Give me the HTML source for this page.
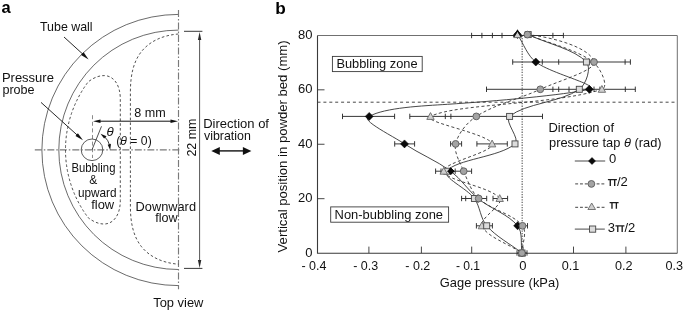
<!DOCTYPE html>
<html><head><meta charset="utf-8"><title>Figure</title>
<style>html,body{margin:0;padding:0;background:#fff;}svg{display:block;filter:grayscale(1);}text{font-family:"Liberation Sans", sans-serif;}</style></head><body>
<svg width="685" height="312" viewBox="0 0 685 312" font-family="'Liberation Sans', sans-serif">
<rect width="685" height="312" fill="#fff"/>
<g>
<g fill="none" stroke="#3a3a3a" stroke-width="0.75">
<path d="M178.5,14.40 A136.6,135.6 0 0 0 41.90,150.0 A136.6,135.6 0 0 0 178.5,285.60"/>
<path d="M178.5,30.10 A119.7,119.7 0 0 0 58.80,149.8 A119.7,119.7 0 0 0 178.5,269.50"/>
</g>
<g fill="none" stroke="#7a7a7a" stroke-width="1.15" stroke-dasharray="7 2 1.5 2">
<path d="M34.8,149.8 H179.5"/>
<path d="M178.5,9.9 V289.3"/>
</g>
<g fill="none" stroke="#333" stroke-width="0.85" stroke-dasharray="2.6 2.2">
<path d="M120.3,149.8 V99 C120.3,84 113,75.8 104.6,75.6 C98,75.4 92.5,78.6 88.25,81.79 A113.0,113.0 0 0 0 88.25,217.81 C92.5,221.00 98,224.20 104.6,224.00 C113,223.80 120.3,215.60 120.3,200.60 V149.8"/>
<path d="M178.5,34 C163,35.2 150,41 141.5,51.5 C133.5,61.5 130.4,75 130.4,92 V206.20 C130.4,223.20 133.5,236.70 141.5,246.70 C150,257.20 163,263.00 178.5,264.20"/>
<path d="M92.5,115.2 V158" stroke="#777" stroke-dasharray="4 2.6"/>
</g>
<circle cx="92" cy="149.8" r="10.8" fill="none" stroke="#333" stroke-width="0.8"/>
<path d="M64.00,37.00 L83.57,54.82" stroke="#111" stroke-width="0.9" fill="none"/>
<path d="M88.60,59.40 L81.04,55.08 L83.59,52.27 Z" fill="#111"/>
<path d="M41.00,102.40 L77.95,135.74" stroke="#111" stroke-width="0.9" fill="none"/>
<path d="M83.00,140.30 L75.48,135.94 L77.90,133.27 Z" fill="#111"/>
<path d="M99.00,121.20 L172.00,121.20" stroke="#111" stroke-width="1.0" fill="none"/>
<path d="M178.00,121.20 L170.50,122.90 L170.50,119.50 Z" fill="#111"/>
<path d="M93.00,121.20 L100.50,122.90 L100.50,119.50 Z" fill="#111"/>
<path d="M199.60,150.00 L199.60,38.40" stroke="#2a2a2a" stroke-width="0.8" fill="none"/>
<path d="M199.60,32.00 L201.30,40.00 L197.90,40.00 Z" fill="#2a2a2a"/>
<path d="M199.60,150.00 L199.60,261.60" stroke="#2a2a2a" stroke-width="0.8" fill="none"/>
<path d="M199.60,268.00 L197.90,260.00 L201.30,260.00 Z" fill="#2a2a2a"/>
<path d="M184,31.3 H202.4 M184,268.4 H202.4" stroke="#222" stroke-width="0.9"/>
<path d="M218.10,150.90 L244.60,150.90" stroke="#111" stroke-width="1.4" fill="none"/>
<path d="M251.40,150.90 L242.90,154.90 L242.90,146.90 Z" fill="#111"/>
<path d="M211.30,150.90 L219.80,154.90 L219.80,146.90 Z" fill="#111"/>
<path d="M92,149.8 L101.5,126.3" stroke="#333" stroke-width="0.85" fill="none"/>
<path d="M109.66,145.40 A18.2,18.2 0 0 0 104.64,136.71" stroke="#222" stroke-width="0.9" fill="none"/>
<path d="M100.54,133.73 L106.55,136.23 L104.07,138.55 Z" fill="#111"/>
<path d="M110.20,150.12 L110.93,143.65 L107.69,144.70 Z" fill="#111"/>
<text x="1.60" y="13.20" font-size="16.5" font-weight="bold" fill="#000" >a</text>
<text x="40.00" y="30.90" font-size="13" textLength="52.60" lengthAdjust="spacingAndGlyphs" fill="#111" >Tube wall</text>
<text x="1.90" y="82.10" font-size="13" textLength="52.00" lengthAdjust="spacingAndGlyphs" fill="#111" >Pressure</text>
<text x="2.40" y="93.80" font-size="13" textLength="32.20" lengthAdjust="spacingAndGlyphs" fill="#111" >probe</text>
<text x="134.20" y="116.50" font-size="13" textLength="31.50" lengthAdjust="spacingAndGlyphs" fill="#111" >8 mm</text>
<text x="106.60" y="136.00" font-size="13" textLength="7.20" lengthAdjust="spacingAndGlyphs" font-style="italic" fill="#111" >&#952;</text>
<text x="116.30" y="145.00" font-size="13" textLength="35.40" lengthAdjust="spacingAndGlyphs" fill="#111" >(<tspan font-style="italic">&#952;</tspan> = 0)</text>
<text x="71.60" y="171.80" font-size="13" textLength="43.80" lengthAdjust="spacingAndGlyphs" fill="#111" >Bubbling</text>
<text x="89.20" y="184.20" font-size="13" textLength="8.00" lengthAdjust="spacingAndGlyphs" fill="#111" >&amp;</text>
<text x="77.90" y="197.00" font-size="13" textLength="38.60" lengthAdjust="spacingAndGlyphs" fill="#111" >upward</text>
<text x="91.20" y="208.90" font-size="13" textLength="23.00" lengthAdjust="spacingAndGlyphs" fill="#111" >flow</text>
<text x="135.60" y="211.10" font-size="13" textLength="60.40" lengthAdjust="spacingAndGlyphs" fill="#111" >Downward</text>
<text x="155.20" y="222.40" font-size="13" textLength="22.40" lengthAdjust="spacingAndGlyphs" fill="#111" >flow</text>
<text x="153.20" y="306.90" font-size="13" textLength="50.20" lengthAdjust="spacingAndGlyphs" fill="#111" >Top view</text>
<text x="203.20" y="128.00" font-size="13" textLength="65.80" lengthAdjust="spacingAndGlyphs" fill="#111" >Direction of</text>
<text x="204.00" y="139.90" font-size="13" textLength="46.80" lengthAdjust="spacingAndGlyphs" fill="#111" >vibration</text>
<g transform="translate(196.4,156.6) rotate(-90)">
<text x="0.00" y="0.00" font-size="13" textLength="38.00" lengthAdjust="spacingAndGlyphs" fill="#111" >22 mm</text>
</g>
<text x="275.20" y="14.40" font-size="17.2" font-weight="bold" fill="#000" >b</text>
<path d="M522.20,35.4 V253.1" stroke="#777" stroke-width="1.4" stroke-dasharray="1.3 1.3" fill="none"/>
<path d="M317.5,102.2 H677.3" stroke="#333" stroke-width="0.9" stroke-dasharray="3 2.9" fill="none"/>
<path d="M317.5,35.5 H677.3 V253.29999999999998" stroke="#707070" stroke-width="1" fill="none"/>
<path d="M317.5,35.4 V253.29999999999998 H677.3" stroke="#3a3a3a" stroke-width="1.1" fill="none"/>
<path d="M368.90,253.1 v-6.5 M421.40,253.1 v-6.5 M471.70,253.1 v-6.5 M523.10,253.1 v-6.5 M573.50,253.1 v-6.5 M625.90,253.1 v-6.5 M317.5,198.68 h7 M317.5,144.25 h7 M317.5,89.82 h7 " stroke="#333" stroke-width="0.9" fill="none"/>
<path d="M471.60,35.50 H563.40 M471.60,32.80 v5.4 M481.90,32.80 v5.4 M492.40,32.80 v5.4 M502.00,32.80 v5.4 M552.90,32.80 v5.4 M563.40,32.80 v5.4 M512.70,62.00 H630.40 M512.70,59.30 v5.4 M542.30,59.30 v5.4 M558.70,59.30 v5.4 M625.10,59.30 v5.4 M630.40,59.30 v5.4 M486.50,89.30 H635.30 M486.50,86.60 v5.4 M552.90,86.60 v5.4 M558.70,86.60 v5.4 M569.00,86.60 v5.4 M594.00,86.60 v5.4 M599.90,86.60 v5.4 M625.30,86.60 v5.4 M635.30,86.60 v5.4 M342.50,116.40 H394.60 M342.50,113.70 v5.4 M394.60,113.70 v5.4 M409.80,116.40 H542.50 M409.80,113.70 v5.4 M445.30,113.70 v5.4 M450.90,113.70 v5.4 M542.50,113.70 v5.4 M394.70,143.90 H414.60 M394.70,141.20 v5.4 M414.60,141.20 v5.4 M450.60,143.90 H461.60 M450.60,141.20 v5.4 M461.60,141.20 v5.4 M476.90,143.90 H507.30 M476.90,141.20 v5.4 M507.30,141.20 v5.4 M435.60,171.20 H471.60 M435.60,168.50 v5.4 M441.00,168.50 v5.4 M455.20,168.50 v5.4 M471.60,168.50 v5.4 M461.60,198.50 H486.70 M461.60,195.80 v5.4 M465.70,195.80 v5.4 M486.70,195.80 v5.4 M493.00,198.50 H507.60 M493.00,195.80 v5.4 M507.60,195.80 v5.4 M476.40,225.80 H492.40 M476.40,223.10 v5.4 M492.40,223.10 v5.4 M517.60,225.80 H527.50 M527.50,223.10 v5.4 M517.00,253.00 H527.00 M517.00,250.30 v5.4 M527.00,250.30 v5.4 " stroke="#2c2c2c" stroke-width="0.95" fill="none"/>
<path d="M517.50,34.60 C523.60,43.73 527.32,55.54 535.80,62.00 C551.26,73.77 601.14,85.44 589.30,89.30 C565,95 494.6,101.2 447.6,104.3 C422.6,105.9 385,107.5 369.2,116.4 C358.86,119.46 392.14,135.60 404.50,143.90 C419.34,153.87 436.53,160.60 450.80,171.20 C461.03,178.80 468.10,190.40 478.00,198.50 C490.36,208.60 508.28,214.25 517.60,225.80 C522.94,232.42 520.53,243.93 522.00,253.00" stroke="#333" stroke-width="0.9" fill="none"/>
<path d="M528.20,34.60 C547.60,43.73 574.56,49.32 586.40,62.00 C591.59,67.56 586.31,84.33 579.30,89.30 C560.71,102.47 525.19,103.16 509.60,116.40 C503.76,121.36 520.78,138.86 515.00,143.90 C499.85,157.12 455.65,159.29 446.80,171.20 C442.12,177.49 466.89,188.23 474.40,198.50 C480.19,206.43 480.32,218.50 486.70,225.80 C496.19,236.67 510.23,243.93 522.00,253.00" stroke="#333" stroke-width="0.9" fill="none"/>
<path d="M527.40,34.60 C552,37 590.5,47.5 594,62 C595.96,70.30 558.52,80.88 540.30,89.30 C519.28,99.01 495.18,104.23 476.30,116.40 C466.95,122.43 457.90,133.90 455.60,143.90 C453.70,152.17 460.02,162.51 463.70,171.20 C467.72,180.71 471.32,191.65 478.70,198.50 C490.92,209.85 513.07,213.90 522.50,225.80 C527.47,232.07 522.10,243.93 521.90,253.00" stroke="#333" stroke-width="0.9" stroke-dasharray="3 2.4" fill="none"/>
<path d="M528.00,34.60 C549.67,43.73 575.49,49.04 593.00,62.00 C600.13,67.27 609.59,86.73 601.90,89.30 C555.42,104.86 456.85,103.29 430.50,116.40 C420.25,121.49 489.69,133.88 492.10,143.90 C494.09,152.15 442.51,162.62 443.70,171.20 C445.04,180.82 491.34,186.55 499.70,198.50 C504.07,204.75 478.91,218.49 481.90,225.80 C486.34,236.66 508.63,243.93 522.00,253.00" stroke="#333" stroke-width="0.9" stroke-dasharray="3 2.4" fill="none"/>
<path d="M513.50,34.60 L517.50,30.60 L521.50,34.60 L517.50,38.60 Z" fill="#0a0a0a" stroke="#000" stroke-width="0.5"/>
<path d="M531.80,62.00 L535.80,58.00 L539.80,62.00 L535.80,66.00 Z" fill="#0a0a0a" stroke="#000" stroke-width="0.5"/>
<path d="M585.30,89.30 L589.30,85.30 L593.30,89.30 L589.30,93.30 Z" fill="#0a0a0a" stroke="#000" stroke-width="0.5"/>
<path d="M365.20,116.40 L369.20,112.40 L373.20,116.40 L369.20,120.40 Z" fill="#0a0a0a" stroke="#000" stroke-width="0.5"/>
<path d="M400.50,143.90 L404.50,139.90 L408.50,143.90 L404.50,147.90 Z" fill="#0a0a0a" stroke="#000" stroke-width="0.5"/>
<path d="M447.40,171.20 L450.80,167.80 L454.20,171.20 L450.80,174.60 Z" fill="#0a0a0a" stroke="#000" stroke-width="0.5"/>
<path d="M474.00,198.50 L478.00,194.50 L482.00,198.50 L478.00,202.50 Z" fill="#0a0a0a" stroke="#000" stroke-width="0.5"/>
<path d="M513.60,225.80 L517.60,221.80 L521.60,225.80 L517.60,229.80 Z" fill="#0a0a0a" stroke="#000" stroke-width="0.5"/>
<path d="M518.00,253.00 L522.00,249.00 L526.00,253.00 L522.00,257.00 Z" fill="#0a0a0a" stroke="#000" stroke-width="0.5"/>
<rect x="443.80" y="168.20" width="6.0" height="6.0" fill="#dcdcdc" stroke="#454545" stroke-width="0.9"/>
<path d="M517.50,30.70 L521.30,37.60 L513.70,37.60 Z" fill="#cfcfcf" stroke="#6a6a6a" stroke-width="0.9"/>
<path d="M513.60,36.80 L517.50,30.60 L521.40,36.80" fill="none" stroke="#111" stroke-width="1.4"/>
<path d="M601.90,85.50 L605.60,92.30 L598.20,92.30 Z" fill="#cfcfcf" stroke="#6a6a6a" stroke-width="0.9" stroke-linejoin="miter"/>
<path d="M430.50,112.60 L434.20,119.40 L426.80,119.40 Z" fill="#cfcfcf" stroke="#6a6a6a" stroke-width="0.9" stroke-linejoin="miter"/>
<path d="M492.10,140.10 L495.80,146.90 L488.40,146.90 Z" fill="#cfcfcf" stroke="#6a6a6a" stroke-width="0.9" stroke-linejoin="miter"/>
<path d="M443.70,167.40 L447.40,174.20 L440.00,174.20 Z" fill="#cfcfcf" stroke="#6a6a6a" stroke-width="0.9" stroke-linejoin="miter"/>
<path d="M499.70,194.70 L503.40,201.50 L496.00,201.50 Z" fill="#cfcfcf" stroke="#6a6a6a" stroke-width="0.9" stroke-linejoin="miter"/>
<path d="M481.90,222.00 L485.60,228.80 L478.20,228.80 Z" fill="#cfcfcf" stroke="#6a6a6a" stroke-width="0.9" stroke-linejoin="miter"/>
<path d="M522.00,249.20 L525.70,256.00 L518.30,256.00 Z" fill="#cfcfcf" stroke="#6a6a6a" stroke-width="0.9" stroke-linejoin="miter"/>
<rect x="525.20" y="31.60" width="6.0" height="6.0" fill="#dcdcdc" stroke="#454545" stroke-width="0.9"/>
<rect x="583.40" y="59.00" width="6.0" height="6.0" fill="#dcdcdc" stroke="#454545" stroke-width="0.9"/>
<rect x="576.30" y="86.30" width="6.0" height="6.0" fill="#dcdcdc" stroke="#454545" stroke-width="0.9"/>
<rect x="506.60" y="113.40" width="6.0" height="6.0" fill="#dcdcdc" stroke="#454545" stroke-width="0.9"/>
<rect x="512.00" y="140.90" width="6.0" height="6.0" fill="#dcdcdc" stroke="#454545" stroke-width="0.9"/>
<rect x="471.40" y="195.50" width="6.0" height="6.0" fill="#dcdcdc" stroke="#454545" stroke-width="0.9"/>
<rect x="483.70" y="222.80" width="6.0" height="6.0" fill="#dcdcdc" stroke="#454545" stroke-width="0.9"/>
<rect x="519.00" y="250.00" width="6.0" height="6.0" fill="#dcdcdc" stroke="#454545" stroke-width="0.9"/>
<circle cx="527.40" cy="34.60" r="3.4" fill="#a3a3a3" stroke="#5a5a5a" stroke-width="0.9"/>
<circle cx="594.00" cy="62.00" r="3.4" fill="#a3a3a3" stroke="#5a5a5a" stroke-width="0.9"/>
<circle cx="540.30" cy="89.30" r="3.4" fill="#a3a3a3" stroke="#5a5a5a" stroke-width="0.9"/>
<circle cx="476.30" cy="116.40" r="3.4" fill="#a3a3a3" stroke="#5a5a5a" stroke-width="0.9"/>
<circle cx="455.60" cy="143.90" r="3.4" fill="#a3a3a3" stroke="#5a5a5a" stroke-width="0.9"/>
<circle cx="463.70" cy="171.20" r="3.4" fill="#a3a3a3" stroke="#5a5a5a" stroke-width="0.9"/>
<circle cx="478.70" cy="198.50" r="3.4" fill="#a3a3a3" stroke="#5a5a5a" stroke-width="0.9"/>
<circle cx="522.50" cy="225.80" r="3.4" fill="#a3a3a3" stroke="#5a5a5a" stroke-width="0.9"/>
<circle cx="521.90" cy="253.00" r="3.4" fill="#a3a3a3" stroke="#5a5a5a" stroke-width="0.9"/>
<path d="M447.40,171.20 L450.80,167.80 L454.20,171.20 L450.80,174.60 Z" fill="#0a0a0a" stroke="#000" stroke-width="0.5"/>
<rect x="332.4" y="56.4" width="89.8" height="15.2" fill="#fff" stroke="#3a3a3a" stroke-width="0.9"/>
<text x="336.40" y="68.10" font-size="13" textLength="81.20" lengthAdjust="spacingAndGlyphs" fill="#111" >Bubbling zone</text>
<rect x="330.7" y="206.9" width="117.9" height="15.3" fill="#fff" stroke="#3a3a3a" stroke-width="0.9"/>
<text x="334.60" y="218.50" font-size="13" textLength="108.40" lengthAdjust="spacingAndGlyphs" fill="#111" >Non-bubbling zone</text>
<text x="312.50" y="38.90" font-size="13" text-anchor="end" fill="#111" >80</text>
<text x="312.50" y="93.40" font-size="13" text-anchor="end" fill="#111" >60</text>
<text x="312.50" y="147.80" font-size="13" text-anchor="end" fill="#111" >40</text>
<text x="312.50" y="202.20" font-size="13" text-anchor="end" fill="#111" >20</text>
<text x="312.50" y="256.60" font-size="13" text-anchor="end" fill="#111" >0</text>
<text x="301.40" y="270.30" font-size="13" textLength="25.00" lengthAdjust="spacingAndGlyphs" fill="#111" >- 0.4</text>
<text x="353.20" y="270.30" font-size="13" textLength="25.00" lengthAdjust="spacingAndGlyphs" fill="#111" >- 0.3</text>
<text x="405.30" y="270.30" font-size="13" textLength="25.00" lengthAdjust="spacingAndGlyphs" fill="#111" >- 0.2</text>
<text x="455.90" y="270.30" font-size="13" textLength="24.20" lengthAdjust="spacingAndGlyphs" fill="#111" >- 0.1</text>
<text x="519.30" y="270.30" font-size="13" fill="#111" >0</text>
<text x="561.80" y="270.30" font-size="13" textLength="17.60" lengthAdjust="spacingAndGlyphs" fill="#111" >0.1</text>
<text x="614.90" y="270.30" font-size="13" textLength="17.60" lengthAdjust="spacingAndGlyphs" fill="#111" >0.2</text>
<text x="665.40" y="270.30" font-size="13" textLength="17.60" lengthAdjust="spacingAndGlyphs" fill="#111" >0.3</text>
<text x="439.80" y="286.70" font-size="13" textLength="119.60" lengthAdjust="spacingAndGlyphs" fill="#111" >Gage pressure (kPa)</text>
<g transform="translate(286.6,252.4) rotate(-90)">
<text x="0.00" y="0.00" font-size="13" textLength="212.00" lengthAdjust="spacingAndGlyphs" fill="#111" >Vertical position in powder bed (mm)</text>
</g>
<text x="548.40" y="131.70" font-size="13" textLength="65.60" lengthAdjust="spacingAndGlyphs" fill="#111" >Direction of</text>
<text x="549.00" y="146.80" font-size="13" textLength="112.60" lengthAdjust="spacingAndGlyphs" fill="#111" >pressure tap <tspan font-style="italic">&#952;</tspan> (rad)</text>
<path d="M574.8,161.0 H605.2" stroke="#4a4a4a" stroke-width="1" fill="none"/>
<path d="M588.50,161.00 L592.00,157.50 L595.50,161.00 L592.00,164.50 Z" fill="#0a0a0a" stroke="#000" stroke-width="0.5"/>
<text x="609.00" y="162.70" font-size="13" fill="#111" >0</text>
<path d="M575.2,183.9 H588.0 M596.6,183.9 H605.2" stroke="#444" stroke-width="1" stroke-dasharray="2.9 1.9" fill="none"/>
<circle cx="591.40" cy="183.90" r="3.4" fill="#a3a3a3" stroke="#5a5a5a" stroke-width="0.9"/>
<path d="M607.90,179.00 h9.0 v1.35 h-9.0 Z M609.60,179.00 h1.35 V185.90 h-1.35 Z M614.00,179.00 h1.35 V185.90 h-1.35 Z" fill="#1c1c1c"/>
<text x="616.90" y="185.90" font-size="13" fill="#111" >/2</text>
<path d="M575.2,207.3 H588.0 M596.8,207.3 H605.2" stroke="#444" stroke-width="1" stroke-dasharray="2.9 1.9" fill="none"/>
<path d="M591.70,203.00 L595.50,209.50 L587.90,209.50 Z" fill="#cfcfcf" stroke="#6a6a6a" stroke-width="0.9" stroke-linejoin="miter"/>
<path d="M609.60,201.90 h9.0 v1.35 h-9.0 Z M611.30,201.90 h1.35 V208.80 h-1.35 Z M615.70,201.90 h1.35 V208.80 h-1.35 Z" fill="#1c1c1c"/>
<path d="M574.8,229.1 H604.8" stroke="#4a4a4a" stroke-width="1" fill="none"/>
<rect x="589.50" y="226.00" width="6.2" height="6.2" fill="#dcdcdc" stroke="#454545" stroke-width="0.9"/>
<text x="607.80" y="232.10" font-size="13" fill="#111" >3</text>
<path d="M615.40,225.20 h9.0 v1.35 h-9.0 Z M617.10,225.20 h1.35 V232.10 h-1.35 Z M621.50,225.20 h1.35 V232.10 h-1.35 Z" fill="#1c1c1c"/>
<text x="624.50" y="232.10" font-size="13" fill="#111" >/2</text>
</g>
</svg></body></html>
